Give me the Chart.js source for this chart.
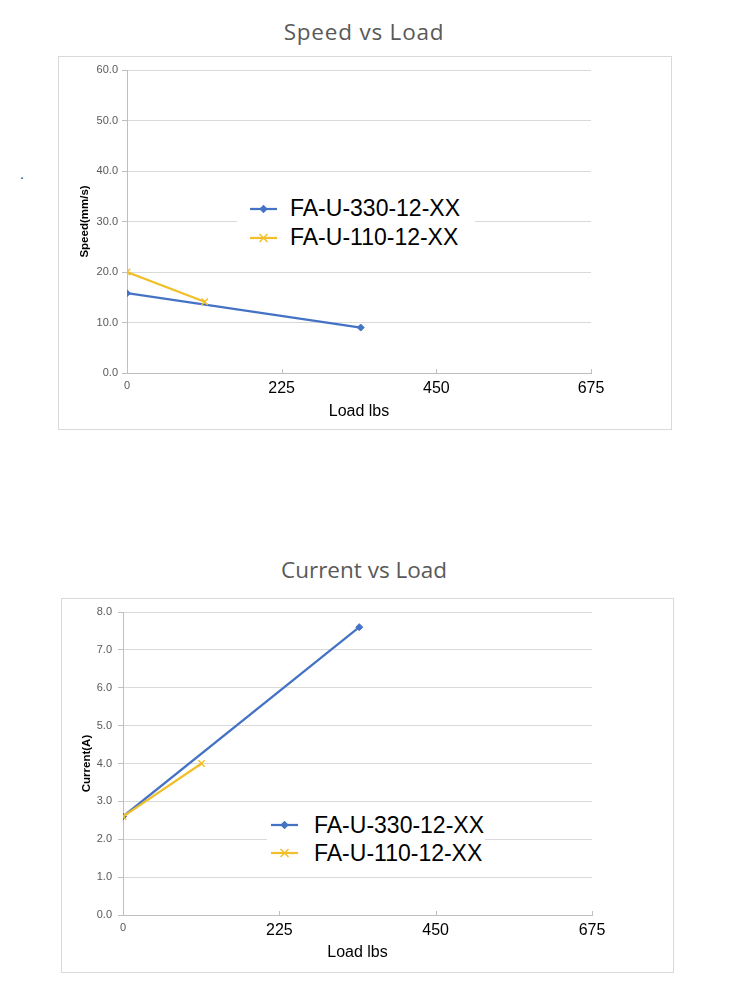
<!DOCTYPE html>
<html>
<head>
<meta charset="utf-8">
<script src="https://cdn.jsdelivr.net/npm/chart.js@4.4.1/dist/chart.umd.min.js"></script>
<style>
body { margin: 0; background: #fff; width: 744px; height: 990px; position: relative; font-family: "Liberation Sans", Arial, sans-serif; }
.title { position: absolute; left: 0; width: 728px; text-align: center; font-family: "Open Sans", sans-serif; font-size: 22.5px; color: #595959; line-height: 30px; }
.box { position: absolute; border: 1px solid #d9d9d9; box-sizing: border-box; }
canvas { position: absolute; }
.legend { position: absolute; background: #fff; font-size: 23px; color: #000; }
.legend .item { display: flex; align-items: center; }
.dot { position: absolute; left: 20px; top: 166px; font-size: 14px; color: #333; }
</style>
</head>
<body>
<div class="dot">.</div>
<div class="title" style="top:17px; letter-spacing:0.8px">Speed vs Load</div>
<div class="box" style="left:58px; top:56px; width:614px; height:374px"></div>
<canvas id="speedChart" width="614" height="373" style="left:58px; top:56px"></canvas>
<div class="legend" id="speedLegend"></div>

<div class="title" style="top:555px">Current vs Load</div>
<div class="box" style="left:61px; top:598px; width:613px; height:375px"></div>
<canvas id="currentChart" width="612" height="374" style="left:61px; top:598px"></canvas>
<div class="legend" id="currentLegend"></div>

<script>
// data
const xTicks = [0, 225, 450, 675];
const seriesNames = ['FA-U-330-12-XX', 'FA-U-110-12-XX'];
const seriesColors = ['#4472C4', '#F0BF2A'];
const load330 = [0, 340];
const load110 = [0, 113];
const speed330 = [15.8, 9.0];
const speed110 = [20.0, 14.1];
const current330 = [2.6, 7.6];
const current110 = [2.6, 4.0];
const speedTicks = [0, 10, 20, 30, 40, 50, 60];
const currentTicks = [0, 1, 2, 3, 4, 5, 6, 7, 8];

// little tick marks pointing up from the x axis
const upTicks = {
    id: 'upTicks',
    beforeDatasetsDraw(chart) {
        const xs = chart.scales.x;
        const ctx = chart.ctx;
        const yb = chart.chartArea.bottom;
        ctx.save();
        ctx.strokeStyle = '#bfbfbf';
        ctx.lineWidth = 1;
        xs.ticks.forEach(t => {
            if (!t.value) return;
            const px = Math.round(xs.getPixelForValue(t.value)) + 0.5;
            ctx.beginPath();
            ctx.moveTo(px, yb);
            ctx.lineTo(px, yb - 4);
            ctx.stroke();
        });
        ctx.restore();
    }
};

const toPoints = (xs, ys) => xs.map((x, i) => ({x: x, y: ys[i]}));

const makeChart = (id, yTitle, yTicks, ys330, ys110, g) => {
    const ctx = document.getElementById(id).getContext('2d');
    return new Chart(ctx, {
        type: 'line',
        data: {
            datasets: [{
                label: seriesNames[0],
                data: toPoints(load330, ys330),
                borderColor: seriesColors[0],
                backgroundColor: seriesColors[0],
                borderWidth: 2.25,
                pointStyle: 'rectRot',
                pointRadius: 3.5,
                pointBorderWidth: 1,
                order: 1
            }, {
                label: seriesNames[1],
                data: toPoints(load110, ys110),
                borderColor: seriesColors[1],
                backgroundColor: seriesColors[1],
                borderWidth: 2.25,
                pointStyle: 'crossRot',
                pointRadius: 4.5,
                pointBorderWidth: 1.5,
                order: 0
            }]
        },
        options: {
            responsive: false,
            animation: false,
            layout: { padding: { top: g.top, right: g.right, left: 0, bottom: 0 } },
            plugins: { legend: { display: false }, tooltip: { enabled: false } },
            scales: {
                x: {
                    type: 'linear',
                    min: 0,
                    max: xTicks[xTicks.length - 1],
                    afterBuildTicks: s => { s.ticks = xTicks.map(v => ({value: v})); },
                    afterFit: s => { s.height = g.xh; },
                    grid: { display: false, drawTicks: false },
                    border: { display: true, color: '#bfbfbf', width: 1 },
                    ticks: {
                        padding: 6,
                        maxRotation: 0,
                        color: c => (c.tick && c.tick.value === 0) ? '#595959' : '#000',
                        font: c => (c.tick && c.tick.value === 0) ? {size: 11} : {size: 16}
                    },
                    title: {
                        display: true,
                        text: 'Load lbs',
                        color: '#000',
                        font: { size: 16 },
                        padding: { top: 0, bottom: g.xtpad }
                    }
                },
                y: {
                    min: 0,
                    max: yTicks[yTicks.length - 1],
                    afterBuildTicks: s => { s.ticks = yTicks.map(v => ({value: v})); },
                    afterFit: s => { s.width = g.yw; },
                    grid: { color: '#d9d9d9', tickColor: '#bfbfbf', tickLength: 5 },
                    border: { display: true, color: '#bfbfbf', width: 1 },
                    ticks: {
                        padding: g.ypad,
                        color: '#595959',
                        font: { size: 11 },
                        callback: v => v.toFixed(1)
                    },
                    title: {
                        display: true,
                        text: yTitle,
                        color: '#000',
                        font: { size: 11.5, weight: 'bold' },
                        padding: { top: g.ytpad, bottom: 0 }
                    }
                }
            }
        },
        plugins: [upTicks]
    });
};

const makeLegend = (id, g) => {
    const box = document.getElementById(id);
    box.style.left = g.left + 'px';
    box.style.top = g.top + 'px';
    box.style.width = g.width + 'px';
    box.style.paddingLeft = g.padLeft + 'px';
    seriesNames.forEach((name, i) => {
        const item = document.createElement('div');
        item.className = 'item';
        item.style.height = g.row + 'px';
        const mark = i === 0
            ? `<rect x="10.5" y="-3" width="6" height="6" transform="rotate(45 13.5 0)" fill="${seriesColors[i]}"/>`
            : `<path d="M9.5 -4 L17.5 4 M17.5 -4 L9.5 4" stroke="${seriesColors[i]}" stroke-width="1.5"/>`;
        item.innerHTML = `<svg width="27" height="12" viewBox="0 -6 27 12" style="margin-right:${g.gap}px">
            <line x1="0" y1="0" x2="27" y2="0" stroke="${seriesColors[i]}" stroke-width="2.25"/>${mark}</svg><span>${name}</span>`;
        box.appendChild(item);
    });
};

makeChart('speedChart', 'Speed(mm/s)', speedTicks, speed330, speed110,
    { top: 14, right: 81, xh: 56, yw: 69, ypad: 4, ytpad: 20, xtpad: 8 });
makeChart('currentChart', 'Current(A)', currentTicks, current330, current110,
    { top: 14, right: 81, xh: 57, yw: 62, ypad: 6, ytpad: 19, xtpad: 10 });

makeLegend('speedLegend', { left: 237, top: 194, width: 225, padLeft: 13, row: 29, gap: 13 });
makeLegend('currentLegend', { left: 267, top: 811, width: 214, padLeft: 4, row: 28, gap: 16 });
</script>
</body>
</html>
